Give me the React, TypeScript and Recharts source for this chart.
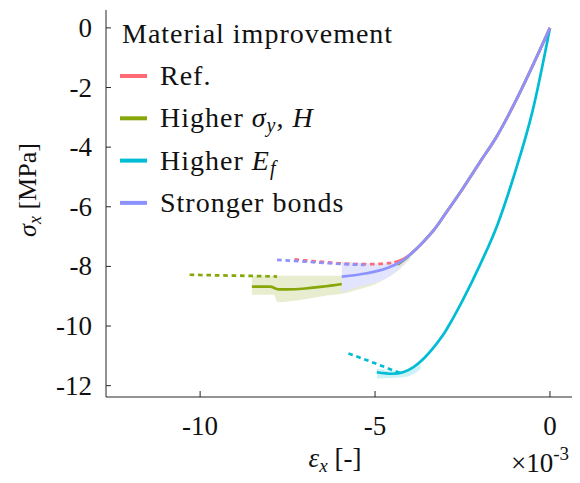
import React from 'react';
import { ComposedChart, Line, Area, XAxis, YAxis, Legend } from 'recharts';

const FONT = '"Liberation Serif", serif';
const AXIS = '#262626';
const TEXT = '#111111';

const RED = '#ff6b74';
const GREEN = '#86a60a';
const CYAN = '#00bcd4';
const BLUE = '#8c93ff';

const txt = (size: number, extra: React.CSSProperties = {}): React.CSSProperties => ({
  fontFamily: FONT,
  fontSize: size,
  fill: TEXT,
  ...extra,
});

// Strain in units of 1e-3, stress in MPa
const xTicks = [-10, -5, 0];
const yTicks = [0, -2, -4, -6, -8, -10, -12];

// elastic branch shared by the three lower-stiffness variants
const sharedStrain = [0, -0.5, -1.0, -1.5, -2.0, -2.5, -3.0, -3.3, -3.6, -3.9];
const sharedStress = [0, -1.28, -2.5, -3.6, -4.5, -5.4, -6.25, -6.75, -7.15, -7.5];

// Ref.
const refStrain = [...sharedStrain, -4.2, -4.45];
const refStress = [...sharedStress, -7.76, -7.86];
const refTailStrain = [-4.45, -5.0, -5.5, -6.0, -6.5, -7.0, -7.3];
const refTailStress = [-7.87, -7.92, -7.92, -7.9, -7.85, -7.8, -7.76];

// Higher sigma_y, H
const yieldStrain = [...sharedStrain, -4.1, -4.35];
const yieldStress = [...sharedStress, -7.72, -7.94];
const yieldPlateauStrain = [-5.95, -6.5, -7.0, -7.5, -7.76, -8.0, -8.52];
const yieldPlateauStress = [-8.59, -8.68, -8.74, -8.77, -8.77, -8.68, -8.68];
const yieldBandStrain = [-4.0, -4.3, -4.6, -5.0, -5.5, -5.95, -6.5, -7.0, -7.5, -7.78, -7.9, -8.52];
const yieldBandLow = [-7.75, -8.1, -8.35, -8.6, -8.78, -8.92, -9.0, -9.1, -9.18, -9.2, -8.95, -8.95];
const yieldBandHigh = [-7.62, -7.85, -7.95, -8.05, -8.2, -8.31, -8.31, -8.31, -8.31, -8.31, -8.31, -8.31];
const yieldTailStrain = [-7.8, -8.5, -9.5, -10.3];
const yieldTailStress = [-8.34, -8.32, -8.3, -8.28];

// Higher E_f
const stiffStrain = [0, -0.5, -1.0, -1.5, -2.0, -2.5, -2.8, -3.0, -3.3, -3.6, -3.9, -4.2, -4.5, -4.95];
const stiffStress = [0, -2.8, -4.85, -6.6, -7.95, -9.15, -9.8, -10.2, -10.68, -11.08, -11.38, -11.55, -11.6, -11.55];
const stiffBandStrain = [-3.7, -4.1, -4.5, -4.95];
const stiffBandLow = [-11.45, -11.7, -11.74, -11.76];
const stiffBandHigh = [-11.3, -11.5, -11.5, -11.42];
const stiffTailStrain = [-4.3, -5.0, -5.76];
const stiffTailStress = [-11.57, -11.25, -10.92];

// Stronger bonds
const bondStrain = [...sharedStrain, -4.2, -4.67, -5.24, -5.95];
const bondStress = [...sharedStress, -7.8, -8.06, -8.23, -8.34];
const bondBandStrain = [-4.0, -4.3, -4.67, -5.0, -5.5, -5.95];
const bondBandLow = [-7.7, -8.05, -8.4, -8.55, -8.7, -8.88];
const bondBandHigh = [-7.6, -7.8, -7.9, -7.9, -7.87, -7.84];
const bondTailStrain = [-5.3, -6.0, -6.5, -7.0, -7.8];
const bondTailStress = [-7.95, -7.92, -7.88, -7.84, -7.78];

const legendItems = [
  { key: 'ref', color: RED },
  { key: 'yield', color: GREEN },
  { key: 'stiff', color: CYAN },
  { key: 'bond', color: BLUE },
];

// rows ordered by strain so the monotone curves are built left to right
const pts = (xs: number[], ys: number[]) =>
  xs.map((x, i) => ({ x, y: ys[i] })).sort((a, b) => a.x - b.x);
const band = (xs: number[], lo: number[], hi: number[]) =>
  xs.map((x, i) => ({ x, range: [lo[i], hi[i]] })).sort((a, b) => a.x - b.x);

const XTick = (props: any) => {
  const { x, y, payload } = props;
  return (
    <g>
      <line x1={x} x2={x} y1={y} y2={y - 6} stroke={AXIS} strokeWidth={1} />
      <text x={x} y={y + 38} textAnchor="middle" style={txt(27)}>
        {payload.value}
      </text>
    </g>
  );
};

const YTick = (props: any) => {
  const { x, y, payload } = props;
  return (
    <g>
      <line x1={x} x2={x + 5} y1={y} y2={y} stroke={AXIS} strokeWidth={1} />
      <text x={x - 14} y={y + 9} textAnchor="end" style={txt(27)}>
        {payload.value}
      </text>
    </g>
  );
};

const XTitle = () => (
  <g>
    <text x={335} y={467} textAnchor="middle" style={txt(27)}>
      <tspan style={{ fontStyle: 'italic' }}>ε</tspan>
      <tspan style={{ fontStyle: 'italic', fontSize: 19 }} dy={5}>x</tspan>
      <tspan dy={-5}>{'  [-]'}</tspan>
    </text>
    <text x={569} y={472} textAnchor="end" style={txt(27)}>
      <tspan>×10</tspan>
      <tspan style={{ fontSize: 19 }} dy={-12}>-3</tspan>
    </text>
  </g>
);

const YTitle = () => (
  <text transform="translate(36,190) rotate(-90)" textAnchor="middle" style={txt(26)}>
    <tspan style={{ fontStyle: 'italic' }}>σ</tspan>
    <tspan style={{ fontStyle: 'italic', fontSize: 18 }} dy={5}>x</tspan>
    <tspan dy={-5}>{' [MPa]'}</tspan>
  </text>
);

const legendLabel = (key: string) => {
  const it = { fontStyle: 'italic' } as React.CSSProperties;
  const sub = { fontStyle: 'italic', fontSize: 20 } as React.CSSProperties;
  switch (key) {
    case 'ref':
      return <tspan>Ref.</tspan>;
    case 'yield':
      return (
        <>
          <tspan>Higher </tspan>
          <tspan style={it}>σ</tspan>
          <tspan style={sub} dy={5}>y</tspan>
          <tspan dy={-5}>, </tspan>
          <tspan style={it}>H</tspan>
        </>
      );
    case 'stiff':
      return (
        <>
          <tspan>Higher </tspan>
          <tspan style={it}>E</tspan>
          <tspan style={sub} dy={5}>f</tspan>
        </>
      );
    default:
      return <tspan>Stronger bonds</tspan>;
  }
};

const LegendBox = () => (
  <svg width={420} height={230} style={{ overflow: 'visible', display: 'block' }}>
    <text x={122} y={43} style={txt(28, { letterSpacing: 1 })}>Material improvement</text>
    {legendItems.map((it, i) => {
      const base = 85 + i * 42.3;
      return (
        <g key={it.key}>
          <line x1={120} x2={147} y1={base - 9} y2={base - 9} stroke={it.color} strokeWidth={4} />
          <text x={160} y={base} style={txt(28, { letterSpacing: 1 })}>{legendLabel(it.key)}</text>
        </g>
      );
    })}
  </svg>
);

export default function App() {
  const dash = '4.6 3.8';
  return (
    <div style={{ position: 'absolute', left: 0, top: 0, fontFamily: FONT }}>
      <ComposedChart width={580} height={483} margin={{ top: 10, right: 8, left: 0, bottom: 0 }}>
        <XAxis
          dataKey="x"
          type="number"
          domain={[-12.69, 0.63]}
          ticks={xTicks}
          allowDataOverflow
          height={86}
          tickSize={0}
          tickMargin={0}
          tick={<XTick />}
          stroke={AXIS}
          label={{ content: () => <XTitle /> }}
        />
        <YAxis
          dataKey="y"
          type="number"
          domain={[-12.38, 0.6]}
          ticks={yTicks}
          allowDataOverflow
          width={106}
          tickSize={0}
          tickMargin={0}
          tick={<YTick />}
          stroke={AXIS}
          label={{ content: () => <YTitle /> }}
        />
        <Legend
          layout="vertical"
          align="center"
          verticalAlign="middle"
          wrapperStyle={{ position: 'absolute', left: 0, top: 0, width: 420, height: 230 }}
          content={() => <LegendBox />}
        />

        {/* Higher sigma_y, H */}
        <Area
          data={band(yieldBandStrain, yieldBandLow, yieldBandHigh)}
          dataKey="range"
          type="monotone"
          stroke="none"
          fill={GREEN}
          fillOpacity={0.2}
          isAnimationActive={false}
        />
        <Line data={pts(yieldStrain, yieldStress)} dataKey="y" type="monotone" stroke={GREEN} strokeWidth={2.7} dot={false} isAnimationActive={false} />
        <Line data={pts(yieldPlateauStrain, yieldPlateauStress)} dataKey="y" type="monotone" stroke={GREEN} strokeWidth={2.7} dot={false} isAnimationActive={false} />
        <Line data={pts(yieldTailStrain, yieldTailStress)} dataKey="y" type="monotone" stroke={GREEN} strokeWidth={2.7} strokeDasharray={dash} dot={false} isAnimationActive={false} />

        {/* Higher E_f */}
        <Area
          data={band(stiffBandStrain, stiffBandLow, stiffBandHigh)}
          dataKey="range"
          type="monotone"
          stroke="none"
          fill={CYAN}
          fillOpacity={0.2}
          isAnimationActive={false}
        />
        <Line data={pts(stiffStrain, stiffStress)} dataKey="y" type="monotone" stroke={CYAN} strokeWidth={2.7} dot={false} isAnimationActive={false} />
        <Line data={pts(stiffTailStrain, stiffTailStress)} dataKey="y" type="monotone" stroke={CYAN} strokeWidth={2.7} strokeDasharray={dash} dot={false} isAnimationActive={false} />

        {/* Stronger bonds scatter band */}
        <Area
          data={band(bondBandStrain, bondBandLow, bondBandHigh)}
          dataKey="range"
          type="monotone"
          stroke="none"
          fill="#e2e5fd"
          fillOpacity={1}
          isAnimationActive={false}
        />

        {/* Ref. */}
        <Line data={pts(refStrain, refStress)} dataKey="y" type="monotone" stroke={RED} strokeWidth={2.7} dot={false} isAnimationActive={false} />
        <Line data={pts(refTailStrain, refTailStress)} dataKey="y" type="monotone" stroke={RED} strokeWidth={2.7} strokeDasharray={dash} dot={false} isAnimationActive={false} />

        {/* Stronger bonds */}
        <Line data={pts(bondStrain, bondStress)} dataKey="y" type="monotone" stroke={BLUE} strokeWidth={2.7} dot={false} isAnimationActive={false} />
        <Line data={pts(bondTailStrain, bondTailStress)} dataKey="y" type="monotone" stroke={BLUE} strokeWidth={2.7} strokeDasharray={dash} dot={false} isAnimationActive={false} />
      </ComposedChart>
    </div>
  );
}
